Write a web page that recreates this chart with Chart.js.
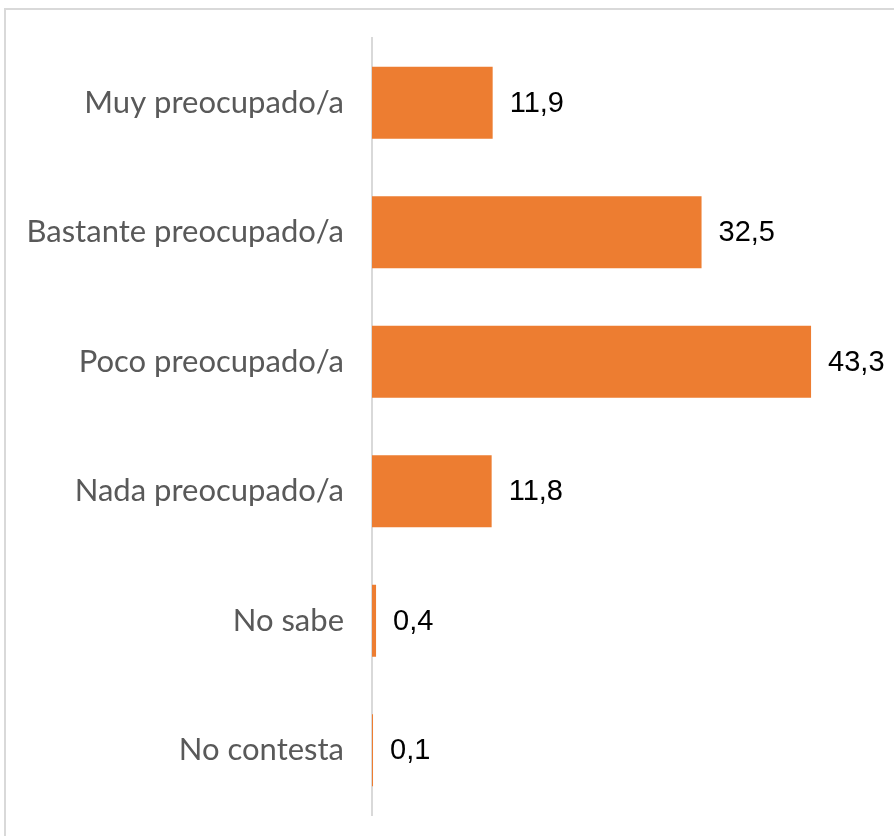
<!DOCTYPE html>
<html>
<head>
<meta charset="utf-8">
<script src="https://cdn.jsdelivr.net/npm/chart.js@4.4.1/dist/chart.umd.min.js"></script>
<style>
	html, body { margin: 0; padding: 0; background: #ffffff; }
	#wrap { position: relative; width: 894px; height: 836px; overflow: hidden; }
	#frame { position: absolute; left: 4px; top: 8px; width: 1000px; height: 1000px; border: 2px solid #d9d9d9; box-sizing: border-box; }
	#concernChart { position: absolute; left: 0; top: 0; }
</style>
</head>
<body>
<div id="wrap">
	<div id="frame"></div>
	<canvas id="concernChart" width="894" height="836"></canvas>
</div>
<script>
var categories = ['Muy preocupado/a', 'Bastante preocupado/a', 'Poco preocupado/a', 'Nada preocupado/a', 'No sabe', 'No contesta'];
var percentValues = [11.9, 32.5, 43.3, 11.8, 0.4, 0.1];

// draws the value next to each bar (no datalabels plugin offline)
var valueLabels = {
	id: 'valueLabels',
	afterDatasetsDraw: function(chart) {
		var ctx = chart.ctx;
		var meta = chart.getDatasetMeta(0);
		ctx.save();
		ctx.font = '29px "Liberation Sans", Arial, sans-serif';
		ctx.fillStyle = '#000000';
		ctx.textAlign = 'left';
		ctx.textBaseline = 'middle';
		meta.data.forEach(function(bar, i) {
			var txt = percentValues[i].toFixed(1).replace('.', ',');
			ctx.fillText(txt, bar.x + 17, bar.y + 1);
		});
		ctx.restore();
	}
};

var concernChart = new Chart(document.getElementById('concernChart'), {
	type: 'bar',
	data: {
		labels: categories,
		datasets: [{
			data: percentValues,
			backgroundColor: '#ED7D31',
			borderWidth: 0,
			barPercentage: 0.556,
			categoryPercentage: 1.0
		}]
	},
	plugins: [valueLabels],
	options: {
		indexAxis: 'y',
		responsive: false,
		animation: false,
		layout: {
			padding: { top: 38, bottom: 21, left: 0, right: 15 }
		},
		plugins: {
			legend: { display: false },
			tooltip: { enabled: false }
		},
		scales: {
			x: {
				display: false,
				min: 0,
				max: 50
			},
			y: {
				afterFit: function(scale) {
					scale.width = 372;
					// tick padding would otherwise push the plot area in
					scale.paddingTop = 0;
					scale.paddingBottom = 0;
				},
				grid: { display: false, drawTicks: false },
				border: { display: true, color: '#d9d9d9', width: 2 },
				ticks: {
					padding: 28,
					color: '#595959',
					font: { family: 'Lato, "Open Sans", sans-serif', size: 31 }
				}
			}
		}
	}
});
</script>
</body>
</html>
